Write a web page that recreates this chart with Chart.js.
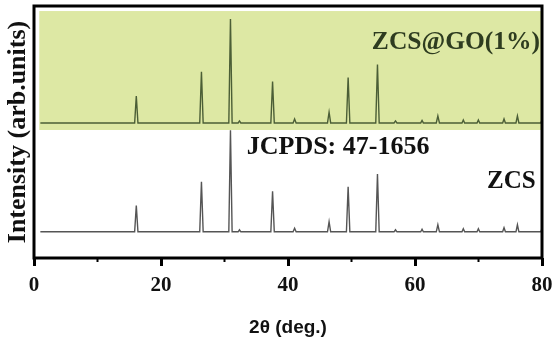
<!DOCTYPE html>
<html>
<head>
<meta charset="utf-8">
<script src="https://cdn.jsdelivr.net/npm/chart.js@4/dist/chart.umd.min.js"></script>
<style>
  html, body { margin: 0; padding: 0; background: #fff; }
  #wrap { width: 552px; height: 343px; }
</style>
</head>
<body>
<div id="wrap"><canvas id="xrdChart" width="552" height="343"></canvas></div>
<script>
// 2theta positions (deg.) shared by both patterns
const twoTheta = [1.0,
  15.85, 16.11, 16.37, 26.1, 26.37, 26.64, 30.68, 30.94, 31.2, 32.15, 32.36, 32.57,
  37.3, 37.57, 37.84, 40.8, 41.04, 41.28, 46.22, 46.47, 46.72, 49.2, 49.47, 49.74,
  53.82, 54.09, 54.36, 56.7, 56.93, 57.16, 60.9, 61.11, 61.32, 63.35, 63.6, 63.85,
  67.4, 67.61, 67.82, 69.77, 69.98, 70.19, 73.8, 74.02, 74.24, 75.9, 76.13, 76.36,
  79.8, 80.0];

// intensities (arb. units, offset stacked)
const zcsGO = [134,
  134, 160.7, 134, 134, 184.7, 134, 134, 237, 134, 134, 136, 134,
  134, 175, 134, 134, 138, 134, 134, 144.6, 134, 134, 179, 134,
  134, 192, 134, 134, 136, 134, 134, 136.5, 134, 134, 141, 134,
  134, 137, 134, 134, 137, 134, 134, 138, 134, 134, 141, 134,
  134, 137];

const zcs = [26,
  26, 52, 26, 26, 75.7, 26, 26, 126.7, 26, 26, 28, 26,
  26, 66.3, 26, 26, 29.5, 26, 26, 36, 26, 26, 70.7, 26,
  26, 83.3, 26, 26, 28, 26, 26, 28.5, 26, 26, 33, 26,
  26, 29, 26, 26, 29, 26, 26, 30, 26, 26, 33, 26,
  26, 29];

const xTicks = [0, 20, 40, 60, 80];
const xMinorTicks = [10, 30, 50, 70];

// shaded band behind the ZCS@GO pattern: [x0, x1, y0, y1]
const band = [0.83, 80, 127, 245];

const serif = '"Liberation Serif", "Times New Roman", serif';

const textLabels = [
  { text: 'ZCS@GO(1%)', x: 79.7, y: 207, align: 'right', color: '#2e3c20', size: 25.5 },
  { text: 'JCPDS: 47-1656', x: 33.5, y: 103, align: 'left', color: '#111', size: 26 },
  { text: 'ZCS', x: 79.0, y: 69, align: 'right', color: '#111', size: 25 }
];

const decorPlugin = {
  id: 'decor',
  beforeDatasetsDraw(chart) {
    const { ctx, scales: { x, y } } = chart;
    const x0 = x.getPixelForValue(band[0]), x1 = x.getPixelForValue(band[1]);
    const y0 = y.getPixelForValue(band[2]), y1 = y.getPixelForValue(band[3]);
    ctx.save();
    ctx.fillStyle = '#dde8a4';
    ctx.fillRect(x0, y1, x1 - x0, y0 - y1);
    ctx.restore();
  },
  afterDatasetsDraw(chart) {
    const { ctx, chartArea: a, scales: { x, y } } = chart;
    ctx.save();
    textLabels.forEach(l => {
      ctx.font = `bold ${l.size}px ${serif}`;
      ctx.fillStyle = l.color;
      ctx.textAlign = l.align;
      ctx.textBaseline = 'alphabetic';
      ctx.fillText(l.text, x.getPixelForValue(l.x), y.getPixelForValue(l.y));
    });
    // frame
    ctx.strokeStyle = '#000';
    ctx.lineWidth = 3;
    ctx.strokeRect(a.left, a.top, a.right - a.left, a.bottom - a.top);
    // minor ticks
    ctx.lineWidth = 2;
    xMinorTicks.forEach(v => {
      const px = x.getPixelForValue(v);
      ctx.beginPath();
      ctx.moveTo(px, a.bottom);
      ctx.lineTo(px, a.bottom + 4);
      ctx.stroke();
    });
    ctx.restore();
  }
};

new Chart(document.getElementById('xrdChart'), {
  type: 'line',
  data: {
    labels: twoTheta,
    datasets: [
      {
        label: 'ZCS@GO(1%)',
        data: twoTheta.map((t, i) => ({ x: t, y: zcsGO[i] })),
        borderColor: '#4b5e36',
        borderWidth: 1.4,
        pointRadius: 0,
        tension: 0
      },
      {
        label: 'ZCS',
        data: twoTheta.map((t, i) => ({ x: t, y: zcs[i] })),
        borderColor: '#555',
        borderWidth: 1.4,
        pointRadius: 0,
        tension: 0
      }
    ]
  },
  options: {
    responsive: false,
    animation: false,
    layout: { padding: { top: 6, right: 10, left: 0, bottom: 0 } },
    plugins: { legend: { display: false }, tooltip: { enabled: false } },
    scales: {
      x: {
        type: 'linear',
        min: 0,
        max: 80,
        afterFit(scale) {
          scale.height = 85;
          scale.paddingLeft = 0;
          scale.paddingRight = 0;
        },
        afterBuildTicks(scale) { scale.ticks = xTicks.map(v => ({ value: v })); },
        border: { display: false },
        grid: { drawOnChartArea: false, tickLength: 8, tickWidth: 3, tickColor: '#000' },
        ticks: {
          color: '#111',
          padding: 7,
          maxRotation: 0,
          font: { family: serif, size: 21, weight: 'bold' }
        },
        title: {
          display: true,
          text: '2θ (deg.)',
          color: '#111',
          padding: { bottom: 4 },
          font: { family: '"Liberation Sans", Arial, sans-serif', size: 19, weight: 'bold' }
        }
      },
      y: {
        min: 0,
        max: 250,
        afterFit(scale) { scale.width = 34; },
        border: { display: false },
        grid: { display: false },
        ticks: { display: false },
        title: {
          display: true,
          text: 'Intensity (arb.units)',
          color: '#111',
          padding: { top: 3 },
          font: { family: serif, size: 26, weight: 'bold' }
        }
      }
    }
  },
  plugins: [decorPlugin]
});
</script>
</body>
</html>
